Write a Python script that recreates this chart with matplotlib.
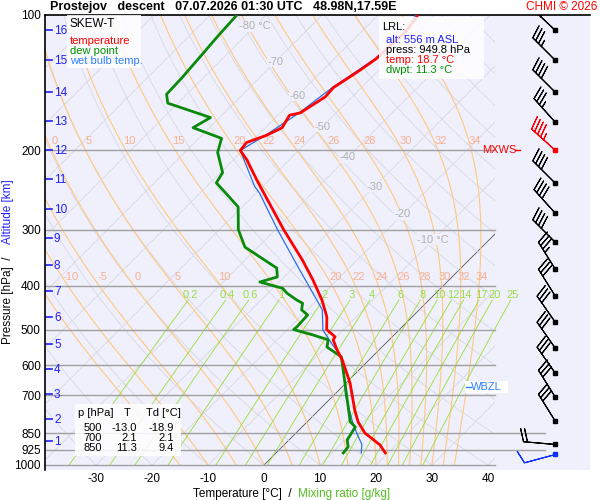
import numpy as np
import matplotlib
matplotlib.use("Agg")
import matplotlib.pyplot as plt
from matplotlib.patches import Rectangle

plt.rcParams['font.family'] = ['Liberation Sans', 'DejaVu Sans']

# ---------------- data ----------------
temp_p = [940, 902, 849, 802, 755, 657, 584, 555, 527, 519, 500, 469, 430, 388, 350, 300, 233, 210, 200, 192, 185, 178, 167, 165, 152, 145, 133, 125, 108, 101, 100]
temp_T = [19.5, 17.1, 12.3, 9.1, 6.4, 0.7, -4.8, -7.5, -10.0, -10.2, -13.0, -15.2, -19.1, -24.3, -29.8, -38.5, -52.1, -57.5, -60.4, -60.7, -58.4, -57.0, -57.9, -56.4, -54.8, -55.0, -53.4, -52.5, -52.1, -52.7, -53.0]
dew_p = [940, 912, 880, 823, 802, 575, 547, 527, 514, 500, 493, 464, 452, 437, 430, 415, 405, 392, 382, 365, 328, 300, 267, 245, 236, 224, 202, 188, 178, 169, 157, 150, 138, 124, 112, 100]
dew_T = [12.0, 11.8, 10.4, 9.5, 7.7, -5.5, -9.8, -10.9, -14.5, -18.9, -18.8, -19.0, -21.0, -22.0, -23.6, -26.6, -28.2, -33.4, -31.2, -32.9, -42.3, -46.6, -50.7, -56.4, -58.9, -59.6, -64.1, -65.9, -72.9, -71.6, -81.8, -83.6, -83.8, -84.3, -84.8, -85.2]
wb_p = [940, 900, 850, 800, 700, 600, 575, 540, 501, 452, 394, 369, 300, 249, 240, 200, 185, 165, 145, 125, 108, 100]
wb_T = [15.2, 13.8, 10.9, 8.0, 2.1, -3.6, -5.5, -9.3, -13.6, -17.3, -24.8, -28.4, -39.6, -49.3, -51.5, -60.4, -58.6, -56.6, -55.2, -52.7, -52.3, -53.2]

alt_km = [16, 15, 14, 13, 12, 11, 10, 9, 8, 7, 6, 5, 4, 3, 2, 1]
alt_p = [108, 126, 148, 172, 200, 232, 270, 313, 360, 411, 470, 538, 612, 695, 790, 885]

wind_p = [108, 126, 148, 173, 200, 236, 275, 320, 367, 421, 481, 550, 625, 706, 798, 898, 945]
wind_dir = [313, 315, 315, 318, 312, 315, 318, 315, 328, 328, 325, 325, 325, 328, 328, 275, 255]
wind_spd = [35, 35, 40, 35, 45, 40, 40, 40, 35, 30, 30, 30, 30, 30, 30, 20, 10]

p_ticks = [100, 200, 300, 400, 500, 600, 700, 850, 925, 1000]
t_ticks = [-30, -20, -10, 0, 10, 20, 30, 40]
mix_vals = [0.2, 0.4, 0.6, 1, 2, 3, 4, 6, 8, 10, 12, 14, 17, 20, 25]
mw_vals = [-15, -10, -5, 0, 5, 10, 15, 20, 22, 24, 26, 28, 30, 32, 34]
mw_lab400 = [-10, -5, 0, 5, 10, 20, 22, 24, 26, 28, 30, 32, 34]
mw_lab200 = [0, 5, 10, 15, 20, 22, 24, 26, 28, 30, 32, 34]
iso_lab = [-80, -70, -60, -50, -40, -30, -20, -10]
iso_lab_p = [106, 127, 151, 177, 207, 241, 277, 316]
table_rows = [("500", "-13.0", "-18.9"), ("700", "2.1", "2.1"), ("850", "11.3", "9.4")]

# ---------------- coordinates ----------------
def Y(p):
    return 465 - np.log10(1000.0 / np.asarray(p, float)) * 450

def X(T, p):
    return 264 + 5.6 * np.asarray(T, float) + (465 - Y(p))

fig = plt.figure(figsize=(6, 5), dpi=100)
pos = [45/600, 30/500, 545/600, 455/500]
ax = fig.add_axes(pos)
ax.set_xlim(45, 590)
ax.set_ylim(470, 15)
ax.set_facecolor("#f0f0fd")
for s in ["right", "bottom"]:
    ax.spines[s].set_visible(False)
ax.spines["top"].set_linewidth(1.2)
ax.spines["left"].set_linewidth(1.2)

clip = Rectangle((45, 15), 450, 450, transform=ax.transData)
pp = np.logspace(np.log10(100), 3, 200)

for t in range(-130, 50, 10):
    l, = ax.plot(X(t, pp), Y(pp), color="#555555" if t == 0 else "#d8d8e0", lw=0.6)
    l.set_clip_path(clip)
for th in range(-40, 200, 10):
    TT = (th + 273.15) * (pp / 1000.0) ** 0.2857 - 273.15
    l, = ax.plot(X(TT, pp), Y(pp), color="#d8d8e0", lw=0.6)
    l.set_clip_path(clip)

def moist(tw):
    ps = np.linspace(1000, 100, 400)
    T = tw + 273.15
    out = [T]
    for i in range(1, len(ps)):
        p = ps[i-1]
        Tc = T - 273.15
        es = 6.112 * np.exp(17.67 * Tc / (Tc + 243.5))
        rs = 0.622 * es / (p - es)
        dTdp = (287.0 * T + 2.5e6 * rs) / (1005.0 + 2.5e6**2 * rs * 0.622 / (287.0 * T**2)) / p
        T = T + dTdp * (ps[i] - p)
        out.append(T)
    return ps, np.array(out) - 273.15

for tw in mw_vals:
    ps, TT = moist(tw)
    l, = ax.plot(X(TT, ps), Y(ps), color="#ffc880", lw=0.8)
    l.set_clip_path(clip)
    for plev, labs in ((400, mw_lab400), (200, mw_lab200)):
        if tw in labs:
            xt = np.interp(plev, ps[::-1], TT[::-1])
            xx = max(X(xt, plev) + 3, 51)
            if 45 < xx < 495:
                ax.text(xx, Y(plev) - 9, f"{tw}", color="#f8b090", fontsize=8, ha="center", va="center")

pm = np.linspace(1000, 430, 50)
for w in mix_vals:
    e = w * pm / (622 + w)
    a = np.log(e / 6.112)
    Td = 243.5 * a / (17.67 - a)
    ax.plot(X(Td, pm), Y(pm), color="#99dd33", lw=0.6)
    ax.text(X(Td[-1], 430) + 2, Y(418), f"{w:g}", color="#99dd44", fontsize=8, ha="center", va="center")

for p in p_ticks[1:]:
    xe = 545 if p in (850, 925) else 495
    ax.plot([45, xe], [Y(p), Y(p)], color="#a0a0a0", lw=1.0)

for t, p in zip(iso_lab, iso_lab_p):
    ax.text(X(t, p), Y(p), f"{t} °C" if t in (-80, -10) else f"{t}", color="#b0b0b0", fontsize=8,
            ha="center", va="center", bbox=dict(fc="#f0f0fd", ec="none", pad=0.3))

ax.plot(X(wb_T, wb_p), Y(wb_p), color="#2a6fe8", lw=0.9, zorder=5)
ax.plot(X(dew_T, dew_p), Y(dew_p), color="#0a8a0a", lw=2.0, zorder=6)
ax.plot(X(temp_T, temp_p), Y(temp_p), color="#ff0000", lw=2.0, zorder=7)

for km, p in zip(alt_km, alt_p):
    ax.plot([46, 52], [Y(p), Y(p)], color="#2020ff", lw=1.2)
    ax.text(54, Y(p) + 1, f"{km}", color="#2020ff", fontsize=8.5, va="center")

bx = fig.add_axes(pos, facecolor="none")
bx.set_xlim(45, 590)
bx.set_ylim(-470, -15)
bx.axis("off")
for p, d, s in zip(wind_p, wind_dir, wind_spd):
    col = "red" if p == 200 else ("#1030ff" if p == 945 else "black")
    u = -s * np.sin(np.radians(d)); v = -s * np.cos(np.radians(d))
    bx.barbs([555], [-Y(p)], [u], [v], length=6.8, linewidth=0.8, color=col, zorder=8)
    bx.plot(555, -Y(p), "s", ms=2.5, color=col, zorder=9)

ax.add_patch(Rectangle((67, 15), 74, 53, fc="white", ec="none", alpha=0.85, zorder=9))
ax.text(70, 24, "SKEW-T", fontsize=8.5, va="center", zorder=10)
ax.text(70, 41, "temperature", color="red", fontsize=8, va="center", zorder=11)
ax.text(70, 51, "dew point", color="#009000", fontsize=8, va="center", zorder=11)
ax.text(70, 61, "wet bulb temp.", color="#3080ff", fontsize=8, va="center", zorder=11)

ax.add_patch(Rectangle((379, 17), 105, 62, fc="white", ec="none", alpha=0.85, zorder=9))
ax.text(382, 27, "LRL:", fontsize=8, va="center", zorder=10)
ax.text(386, 40, "alt: 556 m ASL", color="#2020ff", fontsize=8, va="center", zorder=10)
ax.text(386, 50, "press: 949.8 hPa", fontsize=8, va="center", zorder=10)
ax.text(386, 60, "temp: 18.7 °C", color="red", fontsize=8, va="center", zorder=10)
ax.text(386, 70, "dwpt: 11.3 °C", color="#009000", fontsize=8, va="center", zorder=10)

ax.text(482, Y(200), "MXWS", color="red", fontsize=8, va="center", zorder=10)
ax.plot([515, 520], [Y(200), Y(200)], color="red", lw=1)
ax.add_patch(Rectangle((465, 381), 43, 12, fc="white", ec="none", zorder=9))
ax.plot([466, 471], [387, 387], color="#3080ff", lw=1, zorder=10)
ax.text(471, 387, "WBZL", color="#3080ff", fontsize=8, va="center", zorder=10)

ax.add_patch(Rectangle((75, 404), 106, 52, fc="white", ec="none", alpha=0.85, zorder=9))
ax.text(78, 413, "p [hPa]", fontsize=8, va="center", zorder=10)
ax.text(127, 413, "T", fontsize=8, ha="center", va="center", zorder=10)
ax.text(163, 413, "Td [°C]", fontsize=8, ha="center", va="center", zorder=10)
for i, (a, b, c) in enumerate(table_rows):
    yy = 428 + i * 10
    ax.text(102, yy, a, fontsize=8, ha="right", va="center", zorder=10)
    ax.text(137, yy, b, fontsize=8, ha="right", va="center", zorder=10)
    ax.text(174, yy, c, fontsize=8, ha="right", va="center", zorder=10)

ax.set_yticks(Y(p_ticks))
ax.set_yticklabels([str(p) for p in p_ticks], fontsize=8.5)
ax.set_xticks(X(t_ticks, 1000))
ax.set_xticklabels([str(t) for t in t_ticks], fontsize=8.5)
ax.tick_params(length=0, pad=3)
ax.tick_params(axis="x", pad=2)

fig.text(242/600, 1 - 494/500, "Temperature [°C]  /", fontsize=8.5, ha="center", va="center")
fig.text(344/600, 1 - 494/500, "Mixing ratio [g/kg]", color="#55bb22", fontsize=8.5, ha="center", va="center")
fig.text(8/600, 1 - 300/500, "Pressure [hPa]  /", fontsize=8.5, rotation=90, ha="center", va="center")
fig.text(8/600, 1 - 212/500, "Altitude [km]", color="#2020ff", fontsize=8.5, rotation=90, ha="center", va="center")
fig.text(50/600, 1 - 7/500, "Prostejov   descent   07.07.2026 01:30 UTC   48.98N,17.59E", fontsize=9, fontweight="bold", va="center")
fig.text(597/600, 1 - 7/500, "CHMI © 2026", color="red", fontsize=8.5, ha="right", va="center")

fig.savefig("out.png", dpi=100)
